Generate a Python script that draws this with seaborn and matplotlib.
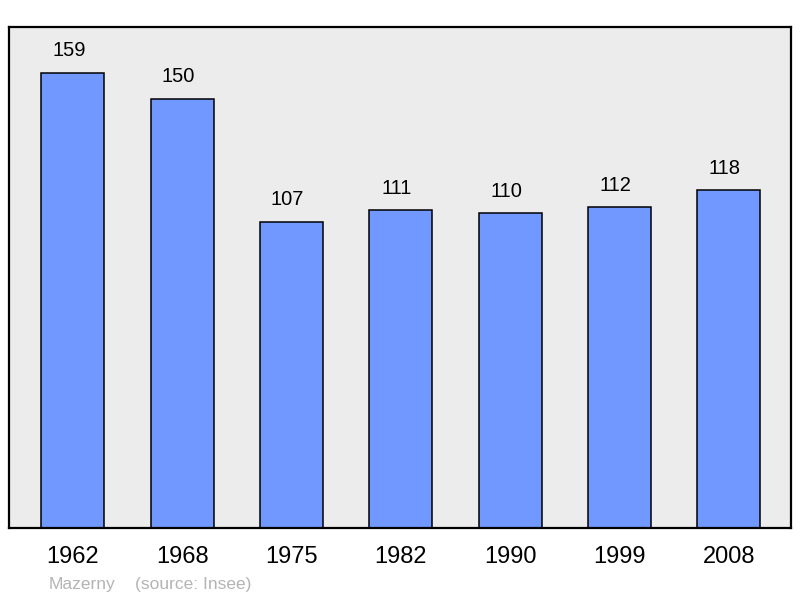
import matplotlib
matplotlib.use("Agg")
import matplotlib.pyplot as plt
import seaborn as sns
import pandas as pd

years = ["1962", "1968", "1975", "1982", "1990", "1999", "2008"]
population = [159, 150, 107, 111, 110, 112, 118]

sns.set_theme(style="white")
plt.rcParams['font.family'] = ['Liberation Sans', 'DejaVu Sans']

df = pd.DataFrame({"year": years, "pop": population})

fig = plt.figure(figsize=(8, 5.98), dpi=100)
ax = fig.add_axes([9/800, 70/598, 782/800, 501/598])
ax.set_facecolor("#ececec")

sns.barplot(data=df, x="year", y="pop", color="#7098ff", saturation=1,
            width=0.576, edgecolor="black", linewidth=1.1, ax=ax)

ax.set_xlim(-0.585, 6.57)
ax.set_ylim(0, 175)
ax.set_yticks([])
ax.set_xlabel("")
ax.set_ylabel("")
ax.tick_params(axis="x", length=0, labelsize=17, pad=13, colors="black")
for s in ax.spines.values():
    s.set_color("black")
    s.set_linewidth(1.6)

for i, v in enumerate(population):
    ax.annotate(str(v), (i, v), xytext=(-3, 9), textcoords="offset points",
                ha="center", va="bottom", fontsize=14.5, color="black")

fig.text(49/800, 1 - 584/598, "Mazerny", fontsize=12.5, color="#b4b4b4", va="center")
fig.text(135/800, 1 - 584/598, "(source: Insee)", fontsize=12.5, color="#b4b4b4", va="center")

fig.savefig("out.png", dpi=100)
